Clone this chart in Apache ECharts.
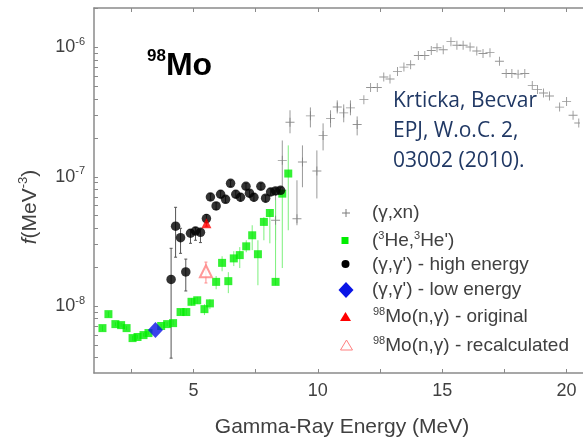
<!DOCTYPE html>
<html><head><meta charset="utf-8">
<script src="https://cdn.jsdelivr.net/npm/echarts@6/dist/echarts.min.js"></script>
<style>html,body{margin:0;padding:0;background:#fff;overflow:hidden;width:583px;height:439px}#c{width:600px;height:439px}</style>
</head><body><div id="c"></div><script>
// (gamma,xn)
const gammaXnE = [8.30,8.57,8.88,9.16,9.38,9.70,9.96,10.21,10.51,10.78,11.04,11.31,11.58,11.85,12.12,12.39,12.65,12.90,13.20,13.46,13.73,14.04,14.30,14.56,14.79,15.04,15.35,15.59,15.84,16.12,16.39,16.64,16.92,17.30,17.57,17.80,18.05,18.32,18.62,18.83,19.07,19.31,19.72,20.00,20.26,20.49];
const gammaXnF = [4.61e-8,1.34e-7,2.64e-7,4.74e-8,1.30e-7,2.96e-7,1.11e-7,2.09e-7,2.83e-7,3.47e-7,3.12e-7,3.41e-7,2.54e-7,3.95e-7,4.91e-7,4.91e-7,5.92e-7,5.71e-7,6.53e-7,7.05e-7,7.36e-7,8.67e-7,8.67e-7,9.48e-7,9.96e-7,9.61e-7,1.11e-6,1.04e-6,1.04e-6,1.01e-6,9.40e-7,8.99e-7,9.12e-7,7.83e-7,6.30e-7,6.30e-7,6.22e-7,6.30e-7,5.09e-7,4.74e-7,4.45e-7,4.22e-7,3.46e-7,3.83e-7,2.99e-7,2.61e-7];
const gammaXnLo = [3.23e-8,7.46e-8,2.17e-7,4.22e-8,8.3e-8,2.41e-7,6.8e-8,1.6e-7,2.41e-7,3.09e-7,2.64e-7,2.99e-7,2.09e-7];
const gammaXnHi = [7.46e-8,1.91e-7,3.27e-7,9.4e-8,1.75e-7,3.44e-7,1.6e-7,2.59e-7,3.27e-7,3.9e-7,3.63e-7,3.9e-7,2.93e-7];
// (3He,3He')
const heE = [1.34,1.58,1.86,2.09,2.31,2.55,2.75,2.99,3.19,3.70,3.94,4.18,4.48,4.71,4.92,5.15,5.44,5.66,5.91,6.15,6.40,6.62,6.86,7.12,7.36,7.59,7.83,8.07,8.30,8.57,8.81];
const heF = [6.76e-9,8.67e-9,7.26e-9,7.13e-9,6.76e-9,5.66e-9,5.77e-9,5.97e-9,6.19e-9,7.02e-9,7.26e-9,7.39e-9,9.0e-9,9.0e-9,1.08e-8,1.11e-8,9.48e-9,1.05e-8,1.54e-8,2.16e-8,1.56e-8,2.34e-8,2.48e-8,2.90e-8,3.53e-8,2.52e-8,4.48e-8,5.25e-8,1.54e-8,7.41e-8,1.06e-7];
const heLo = [6.4e-9,8.2e-9,7.0e-9,6.9e-9,6.5e-9,5.4e-9,5.6e-9,5.8e-9,6.0e-9,6.8e-9,7.0e-9,7.1e-9,8.5e-9,8.5e-9,1.01e-8,1.04e-8,8.53e-9,9.48e-9,1.35e-8,1.86e-8,1.26e-8,2.04e-8,1.97e-8,2.61e-8,2.71e-8,1.45e-8,3.23e-8,3.06e-8,1.45e-8,1.97e-8,3.86e-8];
const heHi = [7.1e-9,9.1e-9,7.5e-9,7.4e-9,7.0e-9,5.9e-9,6.0e-9,6.2e-9,6.4e-9,7.3e-9,7.5e-9,7.8e-9,9.5e-9,9.5e-9,1.15e-8,1.18e-8,1.035e-8,1.13e-8,1.71e-8,2.43e-8,1.83e-8,2.66e-8,2.86e-8,3.23e-8,4.22e-8,3.23e-8,4.87e-8,5.51e-8,6.59e-8,7.87e-8,1.75e-7];
// (gamma,gamma') high energy
const ggHighE = [4.10,4.28,4.48,4.69,4.88,5.08,5.28,5.52,5.68,5.91,6.09,6.29,6.49,6.70,6.89,7.11,7.25,7.43,7.71,7.90,8.10,8.30,8.50];
const ggHighF = [1.61e-8,4.15e-8,3.38e-8,1.84e-8,3.66e-8,3.81e-8,3.72e-8,4.75e-8,6.98e-8,5.95e-8,7.33e-8,6.70e-8,8.91e-8,7.33e-8,6.95e-8,8.45e-8,7.47e-8,6.95e-8,8.45e-8,6.83e-8,7.63e-8,7.77e-8,7.86e-8];
const ggHighLo = [3.96e-9,2.39e-8,2.56e-8,1.31e-8,3.06e-8,3.23e-8,3.1e-8,4.4e-8,6.6e-8,5.6e-8,6.9e-8,6.3e-8,8.4e-8,6.9e-8,6.5e-8,8.0e-8,7.0e-8,6.5e-8,8.0e-8,6.4e-8,7.2e-8,7.3e-8,7.4e-8];
const ggHighHi = [2.80e-8,5.81e-8,4.0e-8,2.31e-8,3.9e-8,4.05e-8,3.95e-8,5.1e-8,7.4e-8,6.3e-8,7.8e-8,7.1e-8,9.4e-8,7.8e-8,7.4e-8,8.9e-8,7.9e-8,7.4e-8,8.9e-8,7.2e-8,8.1e-8,8.2e-8,8.3e-8];
// (gamma,gamma') low energy
const ggLowE = [3.47];
const ggLowF = [6.54e-9];
// 98Mo(n,gamma) original / recalculated
const ngOrigE = [5.52], ngOrigF = [4.38e-8], ngOrigLo = [4.15e-8], ngOrigHi = [4.6e-8];
const ngRecE = [5.50], ngRecF = [1.86e-8], ngRecLo = [1.51e-8], ngRecHi = [2.19e-8];
// axes
const xTickValues = [2.5,5,7.5,10,12.5,15,17.5,20];
const xLabelValues = [5,10,15,20];
const yLabelValues = [1e-8,1e-7,1e-6];
const yTickValues = [3e-9,4e-9,5e-9,6e-9,7e-9,8e-9,9e-9,1e-8,2e-8,3e-8,4e-8,5e-8,6e-8,7e-8,8e-8,9e-8,1e-7,2e-7,3e-7,4e-7,5e-7,6e-7,7e-7,8e-7,9e-7,1e-6,2e-6];

const FONT = '"Liberation Sans", Arial, sans-serif';
const zip = (a,b) => a.map((v,i)=>[v,b[i]]);
const zipErr = (e,lo,hi) => lo.map((v,i)=>[e[i],v,hi[i]]);

function errRender(color, cap) {
  return function(params, api) {
    const x = api.value(0), lo = api.value(1), hi = api.value(2);
    const p1 = api.coord([x, lo]), p2 = api.coord([x, hi]);
    const st = {stroke: color, lineWidth: 1};
    const ch = [{type:'line', shape:{x1:p1[0],y1:p1[1],x2:p2[0],y2:p2[1]}, style:st}];
    if (cap) {
      ch.push({type:'line', shape:{x1:p1[0]-cap,y1:p1[1],x2:p1[0]+cap,y2:p1[1]}, style:st});
      ch.push({type:'line', shape:{x1:p2[0]-cap,y1:p2[1],x2:p2[0]+cap,y2:p2[1]}, style:st});
    }
    return {type:'group', children: ch};
  };
}
function errSeries(data, color, cap) {
  return {type:'custom', data, renderItem: errRender(color, cap), encode:{x:0, y:[1,2]}, clip:true, silent:true, z:1};
}
const PLUS = 'path://M4.5,0h1v4.5h4.5v1h-4.5v4.5h-1v-4.5h-4.5v-1h4.5z';

const chart = echarts.init(document.getElementById('c'), null, {renderer:'canvas', width:600, height:439});
const axisGray = '#8a8a8a';
const txt = '#404040';
const XMAX = 20.74;
const option = {
  animation: false,
  backgroundColor: '#fff',
  grid: {left: 94, right: 15, top: 8, bottom: 66, show:false},
  xAxis: [{
    type:'value', min:1, max:XMAX, position:'bottom',
    axisLine:{show:true, lineStyle:{color:axisGray, width:1.5}},
    axisTick:{show:true, inside:true, length:4, customValues:xTickValues, lineStyle:{color:axisGray}},
    axisLabel:{customValues:xLabelValues, margin:9, fontSize:18, color:txt, fontFamily:FONT},
    splitLine:{show:false}
  },{
    type:'value', min:1, max:XMAX, position:'top',
    axisLine:{show:true, lineStyle:{color:axisGray, width:1.5}},
    axisTick:{show:true, inside:true, length:4, customValues:xTickValues, lineStyle:{color:axisGray}},
    axisLabel:{show:false}, splitLine:{show:false}
  }],
  yAxis: [{
    type:'log', logBase:10, min:3.04e-9, max:2.02e-6,
    axisLine:{show:true, lineStyle:{color:axisGray, width:1.5}},
    axisTick:{show:true, inside:true, length:4, customValues:yTickValues, lineStyle:{color:axisGray}},
    axisLabel:{customValues:yLabelValues, margin:9, fontFamily:FONT, color:txt,
      formatter: v => '{b|10}{s|' + Math.round(Math.log10(v)) + '}',
      rich:{b:{fontSize:18, fontFamily:FONT, color:txt, lineHeight:22}, s:{fontSize:11, fontFamily:FONT, color:txt, verticalAlign:'top', lineHeight:22}}},
    splitLine:{show:false}
  }],
  series: [
    errSeries(zipErr(gammaXnE, gammaXnLo, gammaXnHi), '#9a9a9a', 0),
    {type:'scatter', name:'(γ,xn)', data: zip(gammaXnE, gammaXnF), symbol: PLUS, symbolSize: 9,
      itemStyle:{color:'#7a7a7a'}, z:2},
    errSeries(zipErr(heE, heLo, heHi), '#7cf07c', 0),
    {type:'scatter', name:"(3He,3He')", data: zip(heE, heF), symbol:'rect', symbolSize: 8,
      itemStyle:{color:'#00ee00'}, z:3},
    errSeries(zipErr(ggHighE, ggHighLo, ggHighHi), '#555', 1.5),
    {type:'scatter', name:"(γ,γ') - high energy", data: zip(ggHighE, ggHighF), symbol:'circle', symbolSize: 9.5,
      itemStyle:{color:'#000'}, z:4},
    {type:'scatter', name:"(γ,γ') - low energy", data: zip(ggLowE, ggLowF), symbol:'diamond', symbolSize:[15,16],
      itemStyle:{color:'#0a14e6'}, z:5},
    errSeries(zipErr(ngOrigE, ngOrigLo, ngOrigHi), '#ff3030', 1.5),
    {type:'scatter', name:'98Mo(n,γ) - original', data: zip(ngOrigE, ngOrigF), symbol:'triangle', symbolSize: 10,
      itemStyle:{color:'#ff0000'}, z:6},
    errSeries(zipErr(ngRecE, ngRecLo, ngRecHi), '#ff8a8a', 1.5),
    {type:'scatter', name:'98Mo(n,γ) - recalculated', data: zip(ngRecE, ngRecF), symbol:'emptyTriangle', symbolSize: 12,
      itemStyle:{color:'#ff8080', borderWidth:1}, z:6}
  ],
  graphic: [
    {type:'rect', z:100, silent:true, shape:{x:580, y:9.5, width:20, height:362.5}, style:{fill:'#fff'}},
    {type:'text', x:147, y:48, style:{text:'{s|98}{m|Mo}', rich:{
      s:{fontSize:17, fontWeight:'bold', fontFamily:FONT, fill:'#000', verticalAlign:'top', lineHeight:36},
      m:{fontSize:32, fontWeight:'bold', fontFamily:FONT, fill:'#000', lineHeight:36}}}},
    {type:'text', x:393, y:86, style:{text:'Krticka, Becvar\nEPJ, W.o.C. 2,\n03002 (2010).',
      font:'21px "Open Sans", sans-serif', fill:'#203864', lineHeight:30}},
    {type:'text', x:342, y:427, style:{text:'Gamma-Ray Energy (MeV)', font:'21px '+FONT, fill:txt, align:'center', verticalAlign:'middle'}},
    {type:'text', x:30, y:207, rotation:Math.PI/2, style:{text:'{i|f}{n|(MeV}{s|-3}{n|)}', align:'center', verticalAlign:'middle', rich:{
      i:{fontSize:21, fontStyle:'italic', fontFamily:FONT, fill:txt, lineHeight:26},
      n:{fontSize:21, fontFamily:FONT, fill:txt, lineHeight:26},
      s:{fontSize:13, fontFamily:FONT, fill:txt, verticalAlign:'top', lineHeight:26}}}},
    // legend markers
    {type:'line', shape:{x1:342, y1:213, x2:350, y2:213}, style:{stroke:'#7a7a7a', lineWidth:1}},
    {type:'line', shape:{x1:346, y1:209, x2:346, y2:217}, style:{stroke:'#7a7a7a', lineWidth:1}},
    {type:'rect', shape:{x:341.5, y:237, width:7, height:7}, style:{fill:'#00ee00'}},
    {type:'circle', shape:{cx:345.5, cy:264, r:4}, style:{fill:'#000'}},
    {type:'polygon', shape:{points:[[346,282],[353.5,290],[346,298],[338.5,290]]}, style:{fill:'#0a14e6'}},
    {type:'polygon', shape:{points:[[345.5,312],[351,321],[340,321]]}, style:{fill:'#ff0000'}},
    {type:'polygon', shape:{points:[[346.5,340],[352.5,350],[340.5,350]]}, style:{fill:'#fff', stroke:'#ff8080', lineWidth:1}},
    // legend texts
    {type:'text', x:372, y:213, style:{text:'(γ,xn)', font:'19px '+FONT, fill:txt, verticalAlign:'middle'}},
    {type:'text', x:372, y:241, style:{text:"{n|(}{s|3}{n|He,}{s|3}{n|He')}", verticalAlign:'middle', rich:{
      n:{fontSize:19, fontFamily:FONT, fill:txt, lineHeight:22}, s:{fontSize:11, fontFamily:FONT, fill:txt, verticalAlign:'top', lineHeight:22}}}},
    {type:'text', x:372, y:265, style:{text:"(γ,γ') - high energy", font:'19px '+FONT, fill:txt, verticalAlign:'middle'}},
    {type:'text', x:372, y:290, style:{text:"(γ,γ') - low energy", font:'19px '+FONT, fill:txt, verticalAlign:'middle'}},
    {type:'text', x:373, y:317, style:{text:"{s|98}{n|Mo(n,γ) - original}", verticalAlign:'middle', rich:{
      n:{fontSize:19, fontFamily:FONT, fill:txt, lineHeight:22}, s:{fontSize:11, fontFamily:FONT, fill:txt, verticalAlign:'top', lineHeight:22}}}},
    {type:'text', x:373, y:346, style:{text:"{s|98}{n|Mo(n,γ) - recalculated}", verticalAlign:'middle', rich:{
      n:{fontSize:19, fontFamily:FONT, fill:txt, lineHeight:22}, s:{fontSize:11, fontFamily:FONT, fill:txt, verticalAlign:'top', lineHeight:22}}}}
  ]
};
chart.setOption(option);
</script></body></html>
